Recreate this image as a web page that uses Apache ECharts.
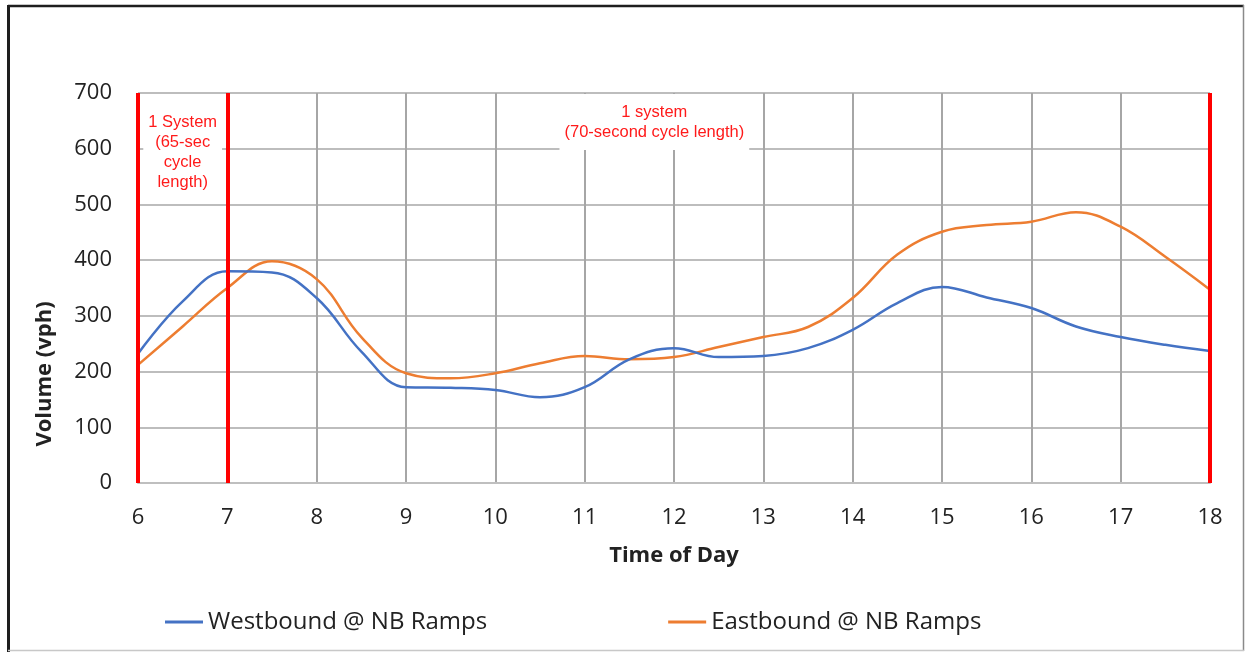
<!DOCTYPE html>
<html>
<head>
<meta charset="utf-8">
<script src="https://cdn.jsdelivr.net/npm/echarts@6/dist/echarts.min.js"></script>
<style>
  html, body { margin: 0; padding: 0; background: #fff; }
  #chart { width: 1245px; height: 652px; }
</style>
</head>
<body>
<div id="chart"></div>
<script>
// ---- data ----
const hours = [6, 6.5, 7, 7.5, 8, 8.5, 9, 9.5, 10, 10.5, 11, 11.5, 12, 12.5, 13, 13.5, 14, 14.5, 15, 15.5, 16, 16.5, 17, 17.5, 18];
const westbound = [232, 326, 380, 378, 332, 236, 172, 171, 167, 154, 172, 222, 242, 226, 228, 242, 275, 323, 352, 333, 314, 281, 262, 248, 237];
const eastbound = [212, 281, 350, 398, 366, 262, 197, 188, 197, 215, 228, 222, 226, 244, 262, 280, 332, 410, 451, 463, 469, 486, 460, 406, 347];
const seriesNames = ['Westbound @ NB Ramps', 'Eastbound @ NB Ramps'];
const systemBoundaries = [6, 7, 18];
const note1 = { x: 6.5, y: 593, text: '1 System\n(65-sec\ncycle\nlength)' };
const note2 = { x: 11.78, y: 648, text: '1 system\n(70-second cycle length)' };
const xTitle = 'Time of Day';
const yTitle = 'Volume (vph)';

const pairs = (vals) => hours.map((h, i) => [h, vals[i]]);

const chart = echarts.init(document.getElementById('chart'), null, { renderer: 'canvas' });
const FONT = '"Open Sans", sans-serif';

chart.setOption({
  backgroundColor: '#ffffff',
  animation: false,
  grid: { left: 138, right: 35, top: 93, bottom: 169, containLabel: false },
  xAxis: {
    type: 'value', min: 6, max: 18, interval: 1,
    name: xTitle, nameLocation: 'middle', nameGap: 62,
    nameTextStyle: { fontFamily: FONT, fontWeight: 'bold', fontSize: 22, color: '#222' },
    axisLine: { show: true, lineStyle: { color: '#bfbfbf', width: 2 } },
    axisTick: { show: false },
    axisLabel: { fontFamily: FONT, fontSize: 22, color: '#222', margin: 24 },
    splitLine: { show: true, lineStyle: { color: '#a6a6a6', width: 2 } }
  },
  yAxis: {
    type: 'value', min: 0, max: 700, interval: 100,
    name: yTitle, nameLocation: 'middle', nameGap: 82,
    nameTextStyle: { fontFamily: FONT, fontWeight: 'bold', fontSize: 22, color: '#222', padding: [0, 172, 0, 0] },
    axisLine: { show: false },
    axisTick: { show: false },
    axisLabel: { fontFamily: FONT, fontSize: 22, color: '#222', margin: 26 },
    splitLine: { show: true, lineStyle: { color: '#bdbdbd', width: 2 } }
  },
  legend: {
    data: seriesNames,
    left: 160, top: 605,
    icon: 'rect', itemWidth: 38, itemHeight: 3, itemGap: 181,
    textStyle: { fontFamily: FONT, fontSize: 24, color: '#222' }
  },
  series: [
    {
      name: seriesNames[0], type: 'line', data: pairs(westbound),
      smooth: 0.4, showSymbol: false, symbol: 'none',
      lineStyle: { color: '#4472c4', width: 2.5 }, itemStyle: { color: '#4472c4' },
      z: 3,
      markLine: {
        silent: true, symbol: ['none', 'none'],
        label: { show: false },
        lineStyle: { color: '#ff0000', width: 4, type: 'solid' },
        data: systemBoundaries.map(v => ({ xAxis: v })),
        z: 5
      },
      markPoint: {
        silent: true, symbol: 'rect', symbolSize: 0,
        label: {
          show: true, position: 'inside',
          fontFamily: '"Liberation Sans", Arial, sans-serif', fontSize: 16.5, lineHeight: 20,
          color: '#ff1a1a', align: 'center', verticalAlign: 'middle',
          backgroundColor: '#ffffff', padding: [8, 5]
        },
        data: [
          { coord: [note1.x, note1.y], value: note1.text, label: { formatter: note1.text } },
          { coord: [note2.x, note2.y], value: note2.text, label: { formatter: note2.text } }
        ]
      }
    },
    {
      name: seriesNames[1], type: 'line', data: pairs(eastbound),
      smooth: 0.4, showSymbol: false, symbol: 'none',
      lineStyle: { color: '#ed7d31', width: 2.5 }, itemStyle: { color: '#ed7d31' },
      z: 2
    }
  ],
  graphic: [
    { type: 'line', shape: { x1: 8, y1: 6, x2: 1244, y2: 6 }, style: { stroke: '#1e1e1e', lineWidth: 2.5 } },
    { type: 'line', shape: { x1: 8.5, y1: 5, x2: 8.5, y2: 652 }, style: { stroke: '#1e1e1e', lineWidth: 3 } },
    { type: 'line', shape: { x1: 1243.5, y1: 5, x2: 1243.5, y2: 651 }, style: { stroke: '#8a8a8a', lineWidth: 1.5 } },
    { type: 'line', shape: { x1: 8, y1: 650.5, x2: 1244, y2: 650.5 }, style: { stroke: '#c8c8c8', lineWidth: 1.5 } }
  ]
});
</script>
</body>
</html>
